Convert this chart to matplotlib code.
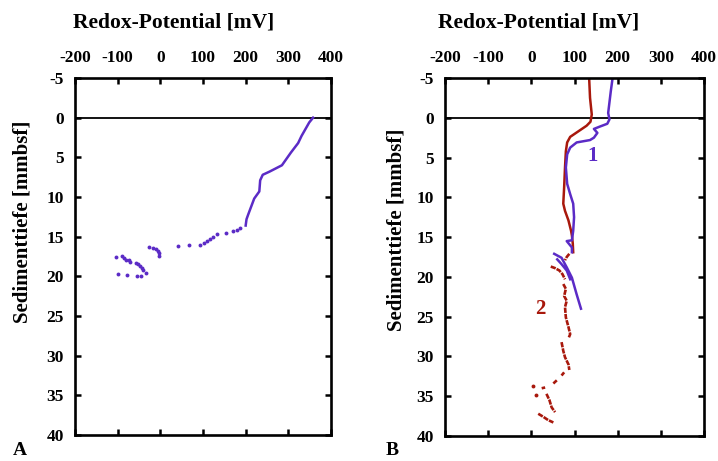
import numpy as np
import matplotlib
matplotlib.use("Agg")
import matplotlib.pyplot as plt

nan = np.nan

# Panel A: profile (continuous part, then scattered points)
a_line_x = [358, 349, 331, 323, 306, 285, 256, 240, 234, 232, 220, 206, 202, 200]
a_line_y = [0.0, 0.6, 2.3, 3.2, 4.4, 6.0, 6.8, 7.2, 7.9, 9.3, 10.2, 12.2, 12.8, 13.6]
a_dots_x = [187, 179, 171, 153, 132, 124, 116, 110, 102, 93, 67, 42,
            -3, -2, -5, -10, -18, -27,
            -105, -91, -85, -81, -73, -71, -57, -52, -48, -44, -40, -34,
            -100, -77, -54, -45]
a_dots_y = [13.85, 14.2, 14.3, 14.5, 14.7, 15.0, 15.35, 15.6, 15.85, 16.0, 16.1, 16.2,
            17.4, 17.1, 16.8, 16.5, 16.4, 16.3,
            17.6, 17.5, 17.75, 17.97, 17.9, 18.2, 18.3, 18.4, 18.7, 18.9, 19.2, 19.6,
            19.7, 19.8, 19.9, 20.0]

# Panel B, curve 1 (purple)
b1_x = [188, 184, 178, 181, 176, 159, 145, 153, 145, 136, 105, 90, 83, 80, 83,
        90, 97, 99, 97, 96, 94, 82, 94, 94]
b1_y = [-4.9, -3.3, -0.6, 0.2, 0.75, 1.1, 1.4, 1.9, 2.5, 2.8, 3.1, 3.75, 4.6, 6.25, 8.3,
        9.6, 10.8, 12.5, 14.2, 14.6, 15.4, 15.5, 16.3, 16.9]
b1b_x = [53, 70, 82, 94, 105, 115, nan, 60, 70, 82, 90]
b1b_y = [17.1, 17.6, 18.8, 20.1, 22.2, 24.0, nan, 17.8, 18.4, 19.2, 20.3]

# Panel B, curve 2 (red)
b2_x = [134, 136, 140, 137, 128, 109, 90, 83, 80, 78, 76, 74, 78, 86, 92, 94, 96, 97]
b2_y = [-4.9, -2.5, -0.4, 0.5, 1.0, 1.7, 2.4, 3.1, 4.2, 6.25, 8.75, 10.8, 11.7, 12.9,
        14.2, 14.8, 15.8, 16.9]
b2b_x = [88, 82, 78, nan, 45, 55, 65, 72, 78, nan, 74, 80, 76, 82, 78, 80, 86, 90, 87,
         nan, 70, 74, 78, 86, 88, nan, 76, 70, nan, 59, 51, nan, 32, 24,
         nan, 35, 42, 47, 55, nan, 16, 28, 39, 51]
b2b_y = [17.1, 17.5, 17.9, nan, 18.7, 18.9, 19.2, 19.65, 20.3, nan, 20.9, 21.5, 22.4, 23.0,
         23.8, 25.1, 26.3, 27.2, 27.6, nan, 28.2, 29.3, 30.1, 31.0, 31.7, nan, 32.0, 32.4,
         nan, 33.0, 33.4, nan, 33.9, 34.0, nan, 34.7, 35.5, 36.4, 37.0, nan, 37.2, 37.6,
         38.0, 38.3]
b2_dots_x = [3, 11]
b2_dots_y = [33.7, 34.8]

x_ticks = [-200, -100, 0, 100, 200, 300, 400]
y_ticks = [-5, 0, 5, 10, 15, 20, 25, 30, 35, 40]

PURPLE = "#5b2bc6"
RED = "#a8180c"

plt.rcParams["font.family"] = ["Liberation Serif", "DejaVu Serif"]
plt.rcParams["font.weight"] = "bold"
plt.rcParams["axes.unicode_minus"] = False

fig = plt.figure(figsize=(7.18, 4.61), dpi=100)
ax_a = fig.add_axes([75 / 718, 1 - 435 / 461, 256 / 718, 357 / 461])
ax_b = fig.add_axes([445 / 718, 1 - 436 / 461, 259 / 718, 358 / 461])


def style_axes(ax):
    ax.set_xlim(-200, 400)
    ax.set_ylim(40, -5)
    ax.set_xticks(x_ticks)
    ax.set_yticks(y_ticks)
    ax.tick_params(axis="both", direction="in", top=True, bottom=True, left=True,
                   right=True, labeltop=True, labelbottom=False, length=4,
                   width=1.8, labelsize=12.5)
    ax.tick_params(axis="x", pad=9)
    ax.tick_params(axis="y", pad=8)
    for label in ax.get_xticklabels() + ax.get_yticklabels():
        label.set_fontweight("bold")
    for sp in ax.spines.values():
        sp.set_linewidth(1.9)
    ax.axhline(0, color="black", lw=1.3)


style_axes(ax_a)
ax_a.plot(a_line_x, a_line_y, color=PURPLE, lw=1.8)
ax_a.plot(a_dots_x, a_dots_y, "o", color=PURPLE, ms=2.8, mew=0)

style_axes(ax_b)
ax_b.plot(b2_x, b2_y, color=RED, lw=1.8)
ax_b.plot(b2b_x, b2b_y, color=RED, lw=1.9, ls=(0, (2.0, 0.4)))
ax_b.plot(b2_dots_x, b2_dots_y, "o", color=RED, ms=2.8, mew=0)
ax_b.plot(b1_x, b1_y, color=PURPLE, lw=1.8)
ax_b.plot(b1b_x, b1b_y, color=PURPLE, lw=1.8)
ax_b.text(143, 4.8, "1", color=PURPLE, fontsize=15, fontweight="bold",
          ha="center", va="center")
ax_b.text(20, 24.0, "2", color=RED, fontsize=15, fontweight="bold",
          ha="center", va="center")

fig.text(174 / 718, 1 - 23 / 461, "Redox-Potential [mV]", ha="center", va="center",
         fontsize=15.5, fontweight="bold")
fig.text(539 / 718, 1 - 23 / 461, "Redox-Potential [mV]", ha="center", va="center",
         fontsize=15.5, fontweight="bold")
fig.text(23 / 718, 1 - 222 / 461, "Sedimenttiefe [mmbsf]", ha="center", va="center",
         rotation=90, fontsize=15, fontweight="bold")
fig.text(397 / 718, 1 - 230 / 461, "Sedimenttiefe [mmbsf]", ha="center", va="center",
         rotation=90, fontsize=15, fontweight="bold")
fig.text(20 / 718, 1 - 450 / 461, "A", ha="center", va="center", fontsize=14,
         fontweight="bold")
fig.text(392 / 718, 1 - 450 / 461, "B", ha="center", va="center", fontsize=14,
         fontweight="bold")

fig.savefig("out.png", dpi=100)
